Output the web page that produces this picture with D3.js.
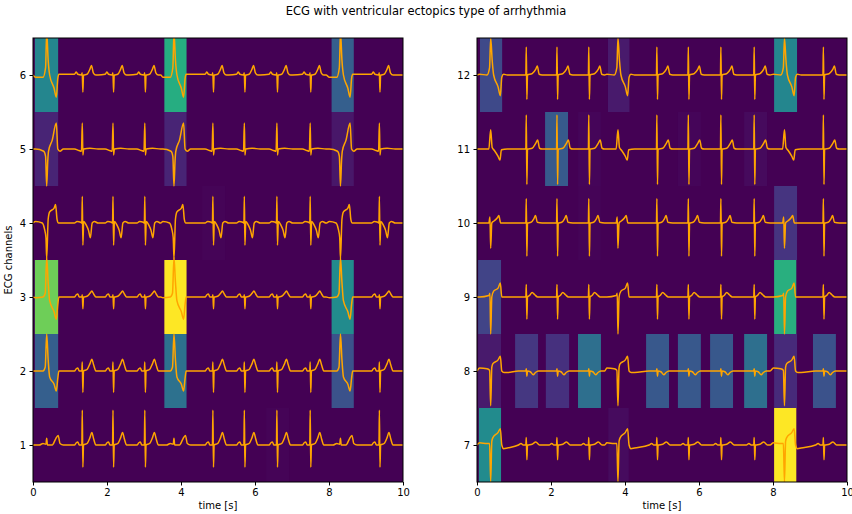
<!DOCTYPE html>
<html>
<head>
<meta charset="utf-8">
<script src="https://cdn.jsdelivr.net/npm/d3@7"></script>
<style>
    body { margin: 0; background: #fff; }
    svg text { font-family: "DejaVu Sans", sans-serif; fill: #000; }
</style>
</head>
<body>
<div class="chart"></div>
<script>

// beat times in seconds, same for every channel of the recording
var normalBeats = [1.34, 2.17, 3.03, 4.87, 5.72, 6.6, 7.5, 9.37];
var ectopicBeats = [0.37, 3.81, 8.31];

var xTicks = [0, 2, 4, 6, 8, 10];
var leftChannels = [1, 2, 3, 4, 5, 6];
var rightChannels = [7, 8, 9, 10, 11, 12];

// beat shapes: [offset from beat (s), amplitude (channel units)]
var normal1 = [[-0.22,0],[-0.17,0.03],[-0.13,0.04],[-0.09,0],[-0.02,0],[-0.008,0.47],[0.008,-0.3],[0.025,0],[0.12,0.02],[0.2,0.1],[0.25,0.17],[0.3,0.08],[0.36,0],[0.42,0]];
var ectopic1 = [[-0.2,0],[-0.1,0.02],[-0.02,0.01],[0,0.09],[0.02,0],[0.15,0],[0.24,0.08],[0.31,0.13],[0.36,0.02],[0.45,0]];
var normal2 = [[-0.22,0],[-0.17,0.03],[-0.13,0.04],[-0.09,0],[-0.02,0],[-0.008,0.12],[0.008,-0.29],[0.025,0],[0.12,0.02],[0.2,0.1],[0.25,0.16],[0.3,0.08],[0.36,0],[0.42,0]];
var ectopic2 = [[-0.3,0],[-0.1,0],[-0.04,0.05],[0,0.5],[0.04,0.15],[0.08,-0.08],[0.2,-0.18],[0.26,-0.27],[0.3,-0.1],[0.33,0],[0.45,0]];
var normal3 = [[-0.22,0],[-0.17,0.03],[-0.13,0.04],[-0.09,0],[-0.02,0],[-0.008,0.03],[0.008,-0.16],[0.025,0],[0.12,0.01],[0.2,0.05],[0.25,0.08],[0.3,0.04],[0.36,0],[0.42,0]];
var ectopic3 = [[-0.3,-0.01],[-0.1,0],[-0.04,0.05],[0,0.53],[0.04,0.2],[0.08,-0.05],[0.2,-0.2],[0.26,-0.3],[0.3,-0.1],[0.33,0],[0.45,0]];
var normal4 = [[-0.22,0],[-0.15,0.02],[-0.05,0.01],[-0.02,0],[-0.008,0.36],[0.008,-0.3],[0.03,0.02],[0.1,-0.03],[0.16,-0.1],[0.21,-0.2],[0.26,0],[0.32,0.02],[0.42,0]];
var ectopic4 = [[-0.3,0.02],[-0.12,0],[-0.06,-0.08],[-0.02,-0.2],[0,-0.48],[0.04,0.05],[0.08,0.15],[0.2,0.2],[0.24,0.25],[0.28,0.05],[0.32,0],[0.45,0]];
var normal5 = [[-0.22,0],[-0.1,-0.02],[-0.03,-0.03],[-0.008,0.35],[0.008,-0.08],[0.03,0],[0.2,0.01],[0.42,0]];
var ectopic5 = [[-0.3,0],[-0.08,-0.03],[-0.03,-0.1],[0,-0.5],[0.03,-0.15],[0.05,-0.03],[0.15,0.12],[0.26,0.35],[0.3,0],[0.36,-0.03],[0.45,0]];
var normal6 = [[-0.22,0.01],[-0.17,0.04],[-0.13,0.01],[-0.03,0],[-0.01,0.03],[0.008,-0.23],[0.025,0],[0.12,0.01],[0.2,0.08],[0.24,0.13],[0.29,0.03],[0.36,0],[0.42,0]];
var ectopic6 = [[-0.3,-0.03],[-0.1,-0.03],[-0.03,0.1],[0,0.58],[0.04,0.2],[0.08,0],[0.2,-0.18],[0.26,-0.3],[0.3,-0.05],[0.33,0.01],[0.45,0.01]];
var normal7 = [[-0.22,0],[-0.15,0.02],[-0.09,0],[-0.02,0],[-0.008,0.1],[0.008,-0.2],[0.025,0],[0.15,0.01],[0.25,0.04],[0.35,0],[0.42,0]];
var ectopic7 = [[-0.3,0.03],[-0.1,0.02],[-0.03,0.02],[0,-0.5],[0.03,0.05],[0.06,0.1],[0.2,0.17],[0.26,0.22],[0.3,0],[0.35,-0.05],[0.45,-0.04]];
var normal8 = [[-0.22,0],[-0.02,0],[-0.008,0.03],[0.008,-0.07],[0.025,0],[0.1,-0.01],[0.18,-0.05],[0.24,-0.02],[0.32,0],[0.42,0]];
var ectopic8 = [[-0.3,0.04],[-0.1,0.03],[-0.03,0.01],[0,-0.47],[0.03,0.05],[0.06,0.1],[0.2,0.15],[0.26,0.2],[0.3,0],[0.36,-0.02],[0.45,-0.02]];
var normal9 = [[-0.22,0],[-0.02,0],[-0.008,0.17],[0.008,-0.3],[0.025,0],[0.08,0.02],[0.15,0.06],[0.22,0.03],[0.3,0],[0.42,0]];
var ectopic9 = [[-0.3,0],[-0.05,0.02],[-0.02,0.05],[0,-0.5],[0.03,0],[0.08,0.08],[0.2,0.12],[0.26,0.19],[0.3,0],[0.45,0]];
var normal10 = [[-0.22,0],[-0.02,0],[-0.008,0.33],[0.008,-0.45],[0.025,0],[0.12,0.01],[0.2,0.06],[0.24,0.1],[0.29,0.01],[0.42,0]];
var ectopic10 = [[-0.3,0],[-0.05,0],[-0.02,0.08],[0,-0.34],[0.03,0],[0.1,0.03],[0.18,0.07],[0.22,0.1],[0.27,0],[0.45,0]];
var normal11 = [[-0.22,0],[-0.02,0],[-0.008,0.46],[0.008,-0.48],[0.025,0],[0.15,0.01],[0.25,0.08],[0.3,0.12],[0.35,0.01],[0.42,0]];
var ectopic11 = [[-0.3,0],[-0.05,0],[0,0.26],[0.04,0.02],[0.1,-0.02],[0.2,-0.1],[0.25,-0.15],[0.29,-0.01],[0.45,0]];
var normal12 = [[-0.22,0],[-0.02,0],[-0.008,0.38],[0.008,-0.33],[0.025,0],[0.15,0.02],[0.25,0.08],[0.29,0.12],[0.34,0.01],[0.42,0]];
var ectopic12 = [[-0.3,0.01],[-0.1,0],[-0.03,0.1],[0,0.5],[0.04,0.2],[0.08,0],[0.2,-0.16],[0.26,-0.28],[0.3,-0.03],[0.35,0.01],[0.45,0]];

// heatmap cells: [channel, start (s), end (s), value 0..1]
var leftCells = [
    [6, 0.05, 0.68, 0.46], [6, 3.55, 4.15, 0.62], [6, 8.07, 8.67, 0.3],
    [5, 0.05, 0.68, 0.1], [5, 3.55, 4.15, 0.1], [5, 8.07, 8.67, 0.06],
    [3, 0.05, 0.68, 0.78], [3, 3.55, 4.15, 1.0], [3, 8.07, 8.67, 0.48],
    [2, 0.05, 0.68, 0.3], [2, 3.55, 4.15, 0.37], [2, 8.07, 8.67, 0.25],
    [4, 4.57, 5.19, 0.008], [1, 6.3, 6.92, 0.008]
];
var rightCells = [
    [12, 0.08, 0.68, 0.22], [12, 3.54, 4.12, 0.07], [12, 8.03, 8.65, 0.46],
    [11, 1.84, 2.46, 0.28], [11, 2.73, 3.35, 0.015], [11, 5.43, 6.05, 0.015], [11, 7.22, 7.84, 0.025],
    [10, 8.03, 8.65, 0.15], [10, 2.73, 3.35, 0.01],
    [9, 0.03, 0.65, 0.2], [9, 8.03, 8.63, 0.63],
    [8, 0.03, 0.65, 0.07], [8, 1.03, 1.65, 0.16], [8, 1.86, 2.49, 0.14], [8, 2.73, 3.35, 0.36],
    [8, 4.57, 5.19, 0.27], [8, 5.43, 6.05, 0.27], [8, 6.3, 6.92, 0.27], [8, 7.22, 7.84, 0.36],
    [8, 8.03, 8.65, 0.12], [8, 9.08, 9.7, 0.25],
    [7, 0.05, 0.65, 0.48], [7, 3.55, 4.1, 0.03], [7, 8.03, 8.63, 1.0]
];

var shapes = {
    1: [normal1, ectopic1], 2: [normal2, ectopic2], 3: [normal3, ectopic3],
    4: [normal4, ectopic4], 5: [normal5, ectopic5], 6: [normal6, ectopic6],
    7: [normal7, ectopic7], 8: [normal8, ectopic8], 9: [normal9, ectopic9],
    10: [normal10, ectopic10], 11: [normal11, ectopic11], 12: [normal12, ectopic12]
};

var svg = d3.select(".chart").append("svg")
    .attr("width", 852)
    .attr("height", 514);

svg.append("text")
    .attr("x", 426)
    .attr("y", 15)
    .attr("text-anchor", "middle")
    .style("font-size", "11.5px")
    .text("ECG with ventricular ectopics type of arrhythmia");

/*
 * EcgPanel - one axes with heatmap cells behind the channel traces
 */

EcgPanel = function(_svg, _id, _left, _channels, _cells){
    this.svg = _svg;
    this.id = _id;
    this.left = _left;
    this.channels = _channels;
    this.cells = _cells;

    this.initVis();
};

EcgPanel.prototype.initVis = function(){
    var vis = this;

    vis.top = 38;
    vis.width = 370;
    vis.height = 444;

    vis.g = vis.svg.append("g")
        .attr("transform", "translate(" + vis.left + "," + vis.top + ")");

    var c0 = vis.channels[0];
    vis.x = d3.scaleLinear().domain([0, 10]).range([0, vis.width]);
    vis.y = d3.scaleLinear().domain([c0 - 0.5, c0 + 5.5]).range([vis.height, 0]);

    vis.g.append("clipPath")
        .attr("id", "clip-" + vis.id)
        .append("rect")
        .attr("width", vis.width)
        .attr("height", vis.height);

    vis.plot = vis.g.append("g").attr("clip-path", "url(#clip-" + vis.id + ")");

    vis.plot.append("rect")
        .attr("width", vis.width)
        .attr("height", vis.height)
        .attr("fill", d3.interpolateViridis(0));

    vis.plot.selectAll("rect.cell")
        .data(vis.cells)
        .enter().append("rect")
        .attr("class", "cell")
        .attr("x", function(d){ return vis.x(d[1]); })
        .attr("width", function(d){ return vis.x(d[2]) - vis.x(d[1]); })
        .attr("y", function(d){ return vis.y(d[0] + 0.5); })
        .attr("height", function(d){ return vis.y(d[0] - 0.5) - vis.y(d[0] + 0.5); })
        .attr("fill", function(d){ return d3.interpolateViridis(d[3]); });

    vis.line = d3.line()
        .curve(d3.curveMonotoneX)
        .x(function(d){ return vis.x(d[0]); })
        .y(function(d){ return vis.y(d[1]); });

    vis.plot.selectAll("path.trace")
        .data(vis.channels.map(function(ch){ return vis.trace(ch); }))
        .enter().append("path")
        .attr("class", "trace")
        .attr("d", vis.line)
        .attr("fill", "none")
        .attr("stroke", "orange")
        .attr("stroke-width", 1.5)
        .attr("stroke-linejoin", "round");

    // axes
    var xAxis = d3.axisBottom(vis.x).tickValues(xTicks).tickFormat(d3.format("d")).tickSize(3.5).tickPadding(3.5);
    var yAxis = d3.axisLeft(vis.y).tickValues(vis.channels).tickFormat(d3.format("d")).tickSize(3.5).tickPadding(3.5);

    vis.g.append("g")
        .attr("transform", "translate(0," + vis.height + ")")
        .call(xAxis)
        .call(vis.styleAxis);

    vis.g.append("g")
        .call(yAxis)
        .call(vis.styleAxis);

    vis.g.append("rect")
        .attr("width", vis.width)
        .attr("height", vis.height)
        .attr("fill", "none")
        .attr("stroke", "#000")
        .attr("stroke-width", 1);

    vis.g.append("text")
        .attr("x", vis.width / 2)
        .attr("y", vis.height + 27)
        .attr("text-anchor", "middle")
        .style("font-size", "10px")
        .text("time [s]");
};

EcgPanel.prototype.styleAxis = function(sel){
    sel.select(".domain").remove();
    sel.selectAll("line").attr("stroke", "#000");
    sel.selectAll("text")
        .style("font-size", "10px")
        .style("font-family", "DejaVu Sans, sans-serif");
};

// chain the beat shapes of one channel along the time axis
EcgPanel.prototype.trace = function(ch){
    var beats = normalBeats.map(function(t){ return [t, shapes[ch][0]]; })
        .concat(ectopicBeats.map(function(t){ return [t, shapes[ch][1]]; }))
        .sort(function(a, b){ return a[0] - b[0]; });

    var pts = [[0, ch]];
    beats.forEach(function(b){
        b[1].forEach(function(p){
            pts.push([b[0] + p[0], ch + p[1]]);
        });
    });
    pts.push([10, ch]);
    return pts;
};

var leftPanel = new EcgPanel(svg, "left", 33, leftChannels, leftCells);
var rightPanel = new EcgPanel(svg, "right", 477, rightChannels, rightCells);

svg.append("text")
    .attr("transform", "translate(12," + (38 + 222) + ") rotate(-90)")
    .attr("text-anchor", "middle")
    .style("font-size", "10px")
    .text("ECG channels");

</script>
</body>
</html>
